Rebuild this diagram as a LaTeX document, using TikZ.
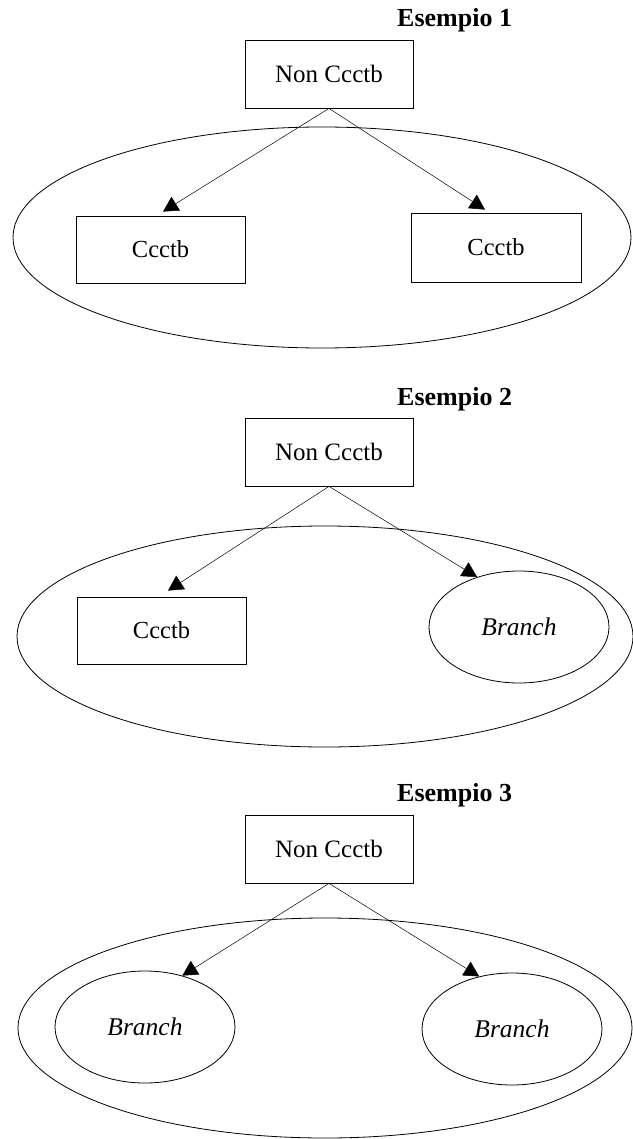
\documentclass[tikz,border=0pt]{standalone}
\usepackage{fontspec}
\setmainfont{Liberation Serif}
\usetikzlibrary{arrows.meta,shapes.geometric}
\begin{document}
\begin{tikzpicture}[x=1pt,y=-1pt,
  lbl/.style={inner sep=0pt, font=\bfseries\fontsize{26}{30}\selectfont},
  box/.style={draw, line width=0.8pt, rectangle, minimum width=168pt, minimum height=68pt, inner sep=0pt, font=\fontsize{25}{29}\selectfont},
  sbox/.style={box, font=\fontsize{24.5}{28}\selectfont},
  big/.style={draw, line width=0.8pt, ellipse, inner sep=0pt},
  branch/.style={draw, line width=0.8pt, ellipse, inner sep=0pt, minimum width=180pt, minimum height=112pt, font=\itshape\fontsize{25.5}{29}\selectfont},
  arr/.style={line width=0.5pt, -{Triangle[length=15pt,width=16pt]}}
]
\useasboundingbox (0,0) rectangle (632,1139);
% Esempio 1
\node[lbl, anchor=base west] (e1) at (397,27) {Esempio 1};
\node[box] (t1) at (329,74) {Non Ccctb};
\node[big, minimum width=618pt, minimum height=221pt] (o1) at (322,237.5) {};
\node[sbox, minimum width=169pt, minimum height=67pt] (l1) at (160.5,249.5) {Ccctb};
\node[sbox, minimum width=170pt, minimum height=69pt] (r1) at (496,247.5) {Ccctb};
\draw[arr] (t1.south) -- ([xshift=2.5pt,yshift=4pt]l1.north);
\draw[arr] (t1.south) -- ([xshift=-11pt,yshift=3pt]r1.north);
% Esempio 2
\node[lbl, anchor=base west] (e2) at (397,405) {Esempio 2};
\node[box] (t2) at (329,452) {Non Ccctb};
\node[big, minimum width=616pt, minimum height=221pt] (o2) at (325,636.5) {};
\node[sbox, minimum width=169pt, minimum height=67pt] (l2) at (161.5,630.5) {Ccctb};
\node[branch] (b2) at (519,627) {Branch};
\draw[arr] (t2.south) -- ([xshift=6.5pt,yshift=6pt]l2.north);
\draw[arr] (t2.south) -- (b2.130);
% Esempio 3
\node[lbl, anchor=base west] (e3) at (397,801) {Esempio 3};
\node[box] (t3) at (329,849) {Non Ccctb};
\node[big, minimum width=614pt, minimum height=220pt] (o3) at (325,1028) {};
\node[branch] (b3l) at (145,1027) {Branch};
\node[branch] (b3r) at (512,1029) {Branch};
\draw[arr] (t3.south) -- (b3l.54);
\draw[arr] (t3.south) -- (b3r.122);
\end{tikzpicture}
\end{document}
